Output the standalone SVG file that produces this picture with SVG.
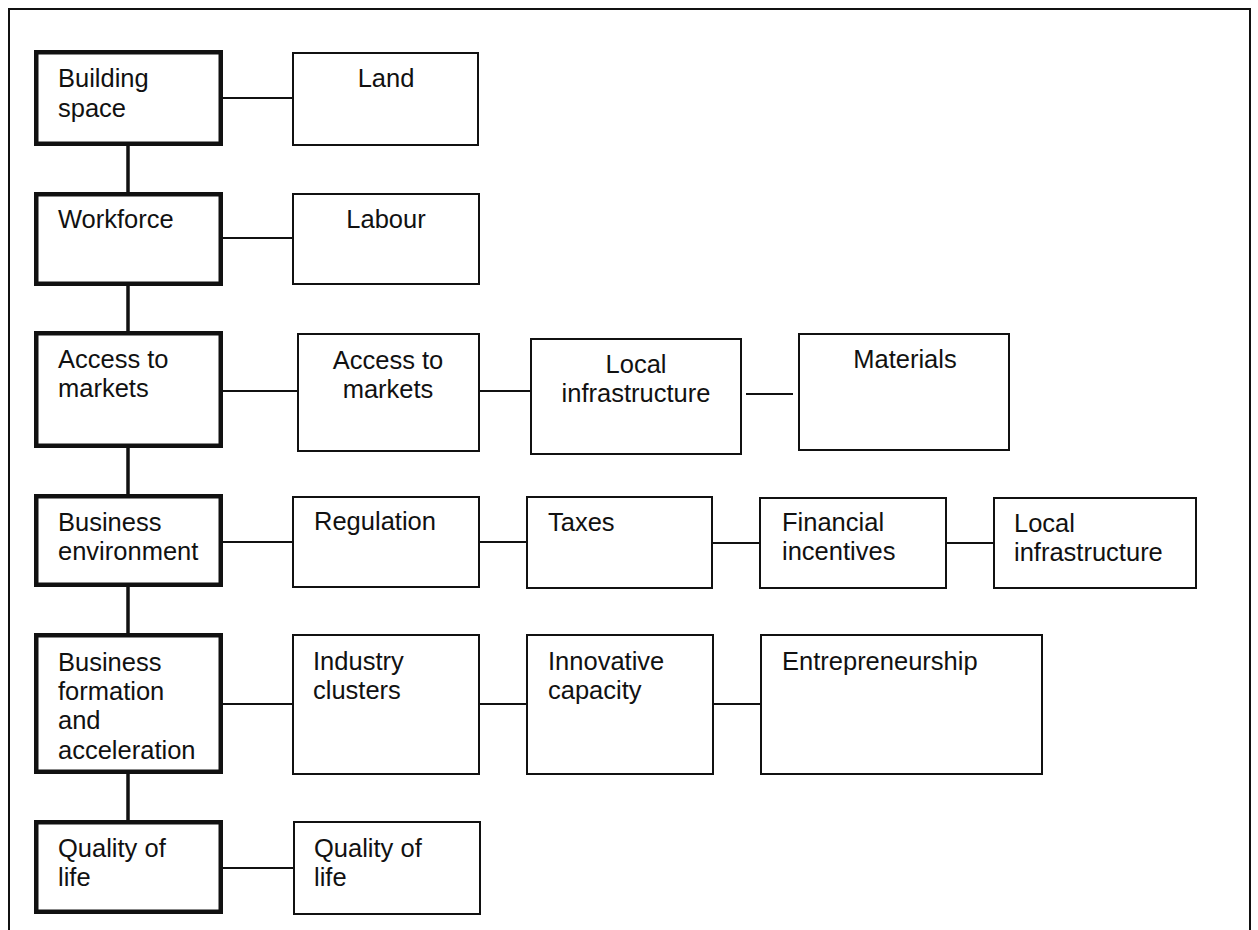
<svg xmlns="http://www.w3.org/2000/svg" width="1258" height="930" viewBox="0 0 1258 930">
  <style>
    .frame { fill: none; stroke: #111; stroke-width: 2; }
    .main rect { fill: #fff; stroke: #111; stroke-width: 4.5; }
    .sub rect { fill: #fff; stroke: #111; stroke-width: 2; }
    text { font-family: "Liberation Sans", Arial, sans-serif; font-size: 25.5px; fill: #111; }
    .c { text-anchor: middle; }
    .links line { stroke: #111; stroke-width: 2; }
    .links line.spine { stroke-width: 3.5; }
  </style>
  <rect width="1258" height="930" fill="#fff"/>
  <path class="frame" d="M9,930 V9 H1250 V930"/>

  <!-- connectors -->
  <g id="connectors" class="links">
    <line class="spine" x1="128" y1="146" x2="128" y2="192"/>
    <line class="spine" x1="128" y1="286" x2="128" y2="331"/>
    <line class="spine" x1="128" y1="448" x2="128" y2="494"/>
    <line class="spine" x1="128" y1="587" x2="128" y2="633"/>
    <line class="spine" x1="128" y1="774" x2="128" y2="820"/>
    <line x1="223" y1="98" x2="292" y2="98"/>
    <line x1="223" y1="238" x2="292" y2="238"/>
    <line x1="223" y1="391" x2="297" y2="391"/>
    <line x1="480" y1="391" x2="530" y2="391"/>
    <line x1="746" y1="394" x2="793" y2="394"/>
    <line x1="223" y1="542" x2="292" y2="542"/>
    <line x1="480" y1="542" x2="526" y2="542"/>
    <line x1="713" y1="543" x2="759" y2="543"/>
    <line x1="947" y1="543" x2="993" y2="543"/>
    <line x1="223" y1="704" x2="292" y2="704"/>
    <line x1="480" y1="704" x2="526" y2="704"/>
    <line x1="714" y1="704" x2="760" y2="704"/>
    <line x1="223" y1="868" x2="293" y2="868"/>
  </g>

  <!-- factor column -->
  <g id="building-space" class="main">
    <rect x="36.25" y="52.25" width="184.5" height="91.5"/>
    <text x="58" y="87">Building</text>
    <text x="58" y="117">space</text>
  </g>
  <g id="workforce" class="main">
    <rect x="36.25" y="194.25" width="184.5" height="89.5"/>
    <text x="58" y="228">Workforce</text>
  </g>
  <g id="access-to-markets" class="main">
    <rect x="36.25" y="333.25" width="184.5" height="112.5"/>
    <text x="58" y="368">Access to</text>
    <text x="58" y="397">markets</text>
  </g>
  <g id="business-environment" class="main">
    <rect x="36.25" y="496.25" width="184.5" height="88.5"/>
    <text x="58" y="531">Business</text>
    <text x="58" y="560">environment</text>
  </g>
  <g id="business-formation" class="main">
    <rect x="36.25" y="635.25" width="184.5" height="136.5"/>
    <text x="58" y="671">Business</text>
    <text x="58" y="700">formation</text>
    <text x="58" y="729">and</text>
    <text x="58" y="759">acceleration</text>
  </g>
  <g id="quality-of-life" class="main">
    <rect x="36.25" y="822.25" width="184.5" height="89.5"/>
    <text x="58" y="857">Quality of</text>
    <text x="58" y="886">life</text>
  </g>

  <!-- row: building space -->
  <g id="land" class="sub">
    <rect x="293" y="53" width="185" height="92"/>
    <text class="c" x="386" y="87">Land</text>
  </g>
  <!-- row: workforce -->
  <g id="labour" class="sub">
    <rect x="293" y="194" width="186" height="90"/>
    <text class="c" x="386" y="228">Labour</text>
  </g>
  <!-- row: access to markets -->
  <g id="access-to-markets-sub" class="sub">
    <rect x="298" y="334" width="181" height="117"/>
    <text class="c" x="388" y="369">Access to</text>
    <text class="c" x="388" y="398">markets</text>
  </g>
  <g id="local-infrastructure-a" class="sub">
    <rect x="531" y="339" width="210" height="115"/>
    <text class="c" x="636" y="373">Local</text>
    <text class="c" x="636" y="402">infrastructure</text>
  </g>
  <g id="materials" class="sub">
    <rect x="799" y="334" width="210" height="116"/>
    <text class="c" x="905" y="368">Materials</text>
  </g>
  <!-- row: business environment -->
  <g id="regulation" class="sub">
    <rect x="293" y="497" width="186" height="90"/>
    <text x="314" y="530">Regulation</text>
  </g>
  <g id="taxes" class="sub">
    <rect x="527" y="497" width="185" height="91"/>
    <text x="548" y="531">Taxes</text>
  </g>
  <g id="financial-incentives" class="sub">
    <rect x="760" y="498" width="186" height="90"/>
    <text x="782" y="531">Financial</text>
    <text x="782" y="560">incentives</text>
  </g>
  <g id="local-infrastructure-b" class="sub">
    <rect x="994" y="498" width="202" height="90"/>
    <text x="1014" y="532">Local</text>
    <text x="1014" y="561">infrastructure</text>
  </g>
  <!-- row: business formation -->
  <g id="industry-clusters" class="sub">
    <rect x="293" y="635" width="186" height="139"/>
    <text x="313" y="670">Industry</text>
    <text x="313" y="699">clusters</text>
  </g>
  <g id="innovative-capacity" class="sub">
    <rect x="527" y="635" width="186" height="139"/>
    <text x="548" y="670">Innovative</text>
    <text x="548" y="699">capacity</text>
  </g>
  <g id="entrepreneurship" class="sub">
    <rect x="761" y="635" width="281" height="139"/>
    <text x="782" y="670">Entrepreneurship</text>
  </g>
  <!-- row: quality of life -->
  <g id="quality-of-life-sub" class="sub">
    <rect x="294" y="822" width="186" height="92"/>
    <text x="314" y="857">Quality of</text>
    <text x="314" y="886">life</text>
  </g>
</svg>
